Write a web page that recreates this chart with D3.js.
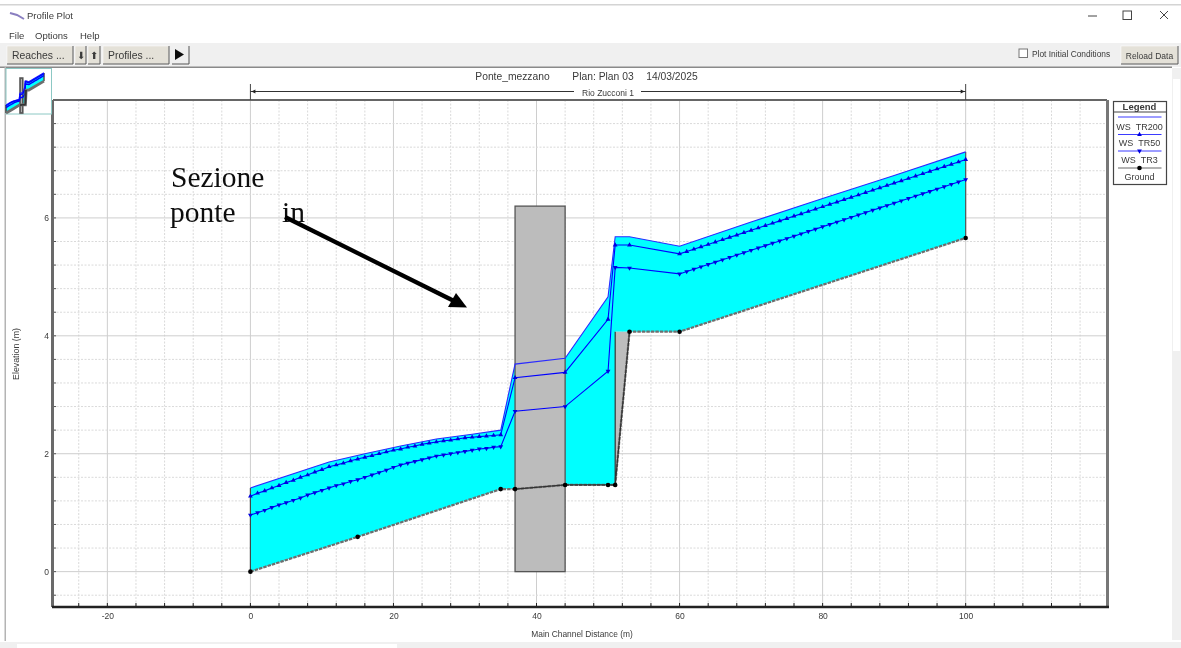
<!DOCTYPE html>
<html><head><meta charset="utf-8">
<style>
html,body{margin:0;padding:0;background:#fff;overflow:hidden}
svg{display:block}
text{font-family:"Liberation Sans",Arial,sans-serif;font-size:9.5px;fill:#3a3a3a;white-space:pre}
.soft{filter:url(#soft)}
</style>
<script src="https://cdn.jsdelivr.net/npm/d3@7/dist/d3.min.js"></script>
</head><body>
<svg id="c" width="1181" height="648"></svg>
<script>
const stationsWS=[0,1,2,3,4,5,6,7,8,9,10,11,12,13,14,15,16,17,18,19,20,21,22,23,24,25,26,27,28,29,30,31,32,33,34,35,37,44,50,51,53,60,61,62,63,64,65,66,67,68,69,70,71,72,73,74,75,76,77,78,79,80,81,82,83,84,85,86,87,88,89,90,91,92,93,94,95,96,97,98,99,100];
const wsTR50=[1.28,1.33,1.37,1.42,1.46,1.51,1.55,1.60,1.64,1.69,1.73,1.78,1.81,1.84,1.88,1.91,1.94,1.97,2.00,2.03,2.06,2.08,2.11,2.13,2.16,2.18,2.20,2.22,2.23,2.25,2.27,2.28,2.29,2.30,2.31,2.32,3.29,3.38,4.28,5.54,5.54,5.39,5.43,5.47,5.51,5.55,5.59,5.63,5.67,5.71,5.75,5.79,5.83,5.87,5.91,5.95,5.99,6.03,6.07,6.11,6.15,6.19,6.23,6.27,6.31,6.35,6.39,6.43,6.47,6.51,6.55,6.59,6.63,6.67,6.71,6.75,6.79,6.83,6.87,6.91,6.95,6.99];
const wsTR3=[0.96,1.00,1.04,1.09,1.13,1.17,1.21,1.25,1.30,1.34,1.38,1.42,1.46,1.49,1.53,1.56,1.60,1.64,1.68,1.72,1.77,1.81,1.84,1.87,1.90,1.93,1.96,1.98,2.00,2.02,2.04,2.06,2.08,2.09,2.11,2.12,2.72,2.80,3.40,5.16,5.15,5.05,5.09,5.13,5.17,5.21,5.25,5.29,5.33,5.37,5.41,5.45,5.49,5.53,5.57,5.61,5.65,5.69,5.73,5.77,5.81,5.85,5.89,5.93,5.97,6.01,6.05,6.09,6.13,6.17,6.21,6.25,6.29,6.33,6.37,6.41,6.45,6.49,6.53,6.57,6.61,6.65];
const stationsTop=[0,11,16,21,26,31,35,37,44,50,51,53,60,70,80,90,100];
const wsTR200=[1.42,1.86,2.00,2.13,2.25,2.33,2.40,3.52,3.62,4.66,5.68,5.68,5.52,5.93,6.33,6.72,7.12];
const groundX=[0,15,35,37,44,50,51,53,60,100];
const groundY=[0,0.59,1.40,1.40,1.47,1.47,1.47,4.07,4.07,5.66];
const bedX=[51,51];
const bedY=[4.07,1.47];
const bridgeX=[37,44];
const bridgeY=[0,6.2];
const gridXMajor=[-20,0,20,40,60,80,100];
const gridYMajor=[0,2,4,6];
const legendLabels=["WS  TR200","WS  TR50","WS  TR3","Ground"];
const titleParts=["Ponte_mezzano","Plan: Plan 03","14/03/2025"];

const svg=d3.select("#c");
const defs=svg.append("defs");
defs.append("filter").attr("id","soft").attr("filterUnits","userSpaceOnUse").attr("x",0).attr("y",0).attr("width",1181).attr("height",648)
 .append("feGaussianBlur").attr("stdDeviation",0.6);
const root=svg.append("g").attr("class","soft");
root.append("rect").attr("width",1181).attr("height",648).attr("fill","#fff");

const x=d3.scaleLinear().domain([-27.6,119.9]).range([53,1108]);
const y=d3.scaleLinear().domain([-0.6,8.0]).range([607,100]);

/* ---------- window chrome ---------- */
const chrome=root.append("g");
chrome.append("rect").attr("x",0).attr("y",4).attr("width",1181).attr("height",1.5).attr("fill","#d4d4d4");
chrome.append("rect").attr("x",0).attr("y",43).attr("width",1181).attr("height",24).attr("fill","#f0f0f0");
chrome.append("rect").attr("x",0).attr("y",66.5).attr("width",1172).attr("height",1.5).attr("fill","#8a8a8a");
chrome.append("rect").attr("x",4.5).attr("y",67).attr("width",1.5).attr("height",574).attr("fill","#b4b4b4");
chrome.append("text").attr("x",27).attr("y",19).text("Profile Plot");
chrome.append("path").attr("d","M10,13 L17,15 L24,19").attr("stroke","#8a7fc0").attr("stroke-width",2).attr("fill","none");
[["File",9],["Options",35],["Help",80]].forEach(d=>chrome.append("text").attr("x",d[1]).attr("y",39).text(d[0]));
function button(bx,w,label,by=46,h=18,size=10.4,lx=null){
  chrome.append("rect").attr("x",bx).attr("y",by).attr("width",w).attr("height",h).attr("fill","#e4e1d8").attr("stroke","#fff").attr("stroke-width",.5);
  chrome.append("path").attr("d",`M${bx},${by+h} H${bx+w} V${by}`).attr("stroke","#555").attr("fill","none");
  chrome.append("text").attr("x",lx===null?bx+w/2:lx).attr("y",by+h/2+3.5).attr("text-anchor",lx===null?"middle":"start").style("font-size",size+"px").text(label);
}
button(7,66,"Reaches ...",46,18,10.4,12);
button(75,11,"⬇",46,18,10);
button(88,12,"⬆",46,18,10);
button(103,66,"Profiles ...",46,18,10.4,108);
chrome.append("rect").attr("x",172).attr("y",46).attr("width",16).attr("height",18).attr("fill","#f0f0f0");
chrome.append("path").attr("d","M172,64 H189 V46").attr("stroke","#555").attr("fill","none");
chrome.append("path").attr("d","M175,49 L184,54.5 L175,60Z").attr("fill","#111");
chrome.append("rect").attr("x",1019).attr("y",49).attr("width",8.5).attr("height",8.5).attr("fill","#fff").attr("stroke","#777");
chrome.append("text").attr("x",1032).attr("y",57).style("font-size","8.4px").text("Plot Initial Conditions");
button(1121,57,"Reload Data",46,18,8.5);
chrome.append("path").attr("d","M1088,16 H1097").attr("stroke","#444");
chrome.append("rect").attr("x",1123).attr("y",11).attr("width",8.5).attr("height",8.5).attr("fill","none").attr("stroke","#444");
chrome.append("path").attr("d","M1160,11 L1168,19 M1168,11 L1160,19").attr("stroke","#444");
/* scrollbars */
chrome.append("rect").attr("x",1172).attr("y",68).attr("width",9).attr("height",572).attr("fill","#f0f0f0");
chrome.append("rect").attr("x",1173).attr("y",79).attr("width",7).attr("height",272).attr("fill","#fff");
chrome.append("rect").attr("x",0).attr("y",642).attr("width",1181).attr("height",6).attr("fill","#f0f0f0");
chrome.append("rect").attr("x",17).attr("y",644).attr("width",380).attr("height",4).attr("fill","#fff");

/* ---------- grid ---------- */
const gridG=root.append("g");
gridG.selectAll("line.gx").data(d3.range(-24,117,4)).join("line")
 .attr("x1",d=>x(d)).attr("x2",d=>x(d)).attr("y1",y.range()[1]).attr("y2",y.range()[0])
 .attr("stroke",d=>gridXMajor.includes(d)?"#cecece":"#dadada")
 .attr("stroke-dasharray",d=>gridXMajor.includes(d)?null:"2 1.5");
gridG.selectAll("line.gy").data(d3.range(-0.4,7.7,0.4)).join("line")
 .attr("y1",d=>y(d)).attr("y2",d=>y(d)).attr("x1",x.range()[0]).attr("x2",x.range()[1])
 .attr("stroke",d=>gridYMajor.some(m=>Math.abs(m-d)<1e-6)?"#cecece":"#dadada")
 .attr("stroke-dasharray",d=>gridYMajor.some(m=>Math.abs(m-d)<1e-6)?null:"2 1.5");

/* ---------- profile drawing, shared with the thumbnail ---------- */
const pairs=(a,b)=>a.map((v,i)=>[v,b[i]]);
function waterOutline(){
  const top=pairs(stationsTop,wsTR200);
  const bed=pairs(groundX.slice(0,7),groundY.slice(0,7)).reverse();
  const shelf=pairs(groundX.slice(7),groundY.slice(7)).reverse();
  return top.concat(shelf,pairs(bedX,bedY),bed.slice(1));
}
function drawProfile(g,X,Y,w){
  const line=d3.line().x(d=>X(d[0])).y(d=>Y(d[1]));
  g.append("path").attr("d",line(waterOutline())+"Z").attr("fill","#00ffff");
  g.append("path").attr("d",line([[bedX[0],bedY[0]],[groundX[7],groundY[7]],[bedX[1],bedY[1]]])+"Z").attr("fill","#bdbdbd");
  g.append("path").attr("d",line([[0,groundY[0]],[0,wsTR200[0]]])).attr("stroke","#444").attr("stroke-width",w*1.2);
  g.append("path").attr("d",line([[100,groundY[9]],[100,wsTR200[16]]])).attr("stroke","#555").attr("stroke-width",w*1.2);
  g.append("rect").attr("x",X(bridgeX[0])).attr("y",Y(bridgeY[1])).attr("width",X(bridgeX[1])-X(bridgeX[0])).attr("height",Y(bridgeY[0])-Y(bridgeY[1]))
    .attr("fill","#bcbcbc").attr("stroke","#555").attr("stroke-width",w*1.3);
  g.append("path").attr("d",line(pairs(stationsTop,wsTR200))).attr("fill","none").attr("stroke","#2a2aff").attr("stroke-width",w*1.1);
  g.append("path").attr("d",line(pairs(stationsWS,wsTR50))).attr("fill","none").attr("stroke","#0000ff").attr("stroke-width",w*1.1);
  g.append("path").attr("d",line(pairs(stationsWS,wsTR3))).attr("fill","none").attr("stroke","#0000ff").attr("stroke-width",w*1.1);
  g.append("path").attr("d",line(pairs(groundX,groundY))).attr("fill","none").attr("stroke","#6e6e6e").attr("stroke-width",w*2.2).attr("stroke-dasharray",w>1?null:"3.5 1");
  g.append("path").attr("d",line([[bedX[0],bedY[0]],[bedX[1],bedY[1]],[groundX[7],groundY[7]]])).attr("fill","none").attr("stroke","#333").attr("stroke-width",w*1.2);
  g.append("path").attr("d",line(pairs(groundX.slice(3,7),groundY.slice(3,7)))).attr("fill","none").attr("stroke","#333").attr("stroke-width",w*1.2);
}
const plot=root.append("g");
drawProfile(plot,x,y,1);
const tri=d3.symbol().type(d3.symbolTriangle).size(10);
plot.selectAll("path.m50").data(pairs(stationsWS,wsTR50)).join("path").attr("d",tri)
 .attr("transform",d=>`translate(${x(d[0])},${y(d[1])})`).attr("fill","#0000e0");
plot.selectAll("path.m3").data(pairs(stationsWS,wsTR3)).join("path").attr("d",tri)
 .attr("transform",d=>`translate(${x(d[0])},${y(d[1])}) rotate(180)`).attr("fill","#0000e0");
plot.selectAll("circle.g").data(pairs(groundX,groundY)).join("circle")
 .attr("cx",d=>x(d[0])).attr("cy",d=>y(d[1])).attr("r",2.3).attr("fill","#000");

/* ---------- frame and axes ---------- */
const ax=root.append("g");
const fmt=d=>String(d);
const xAxis=d3.axisBottom(x).tickValues(gridXMajor).tickFormat(fmt).tickSize(0).tickPadding(6);
const gx=ax.append("g").attr("transform",`translate(0,607)`).call(xAxis);
gx.select(".domain").remove();
gx.selectAll("text").style("font-size","8.5px").style("font-family",'"Liberation Sans"').attr("fill","#3a3a3a");
const yAxis=d3.axisLeft(y).tickValues(gridYMajor).tickFormat(fmt).tickSize(0).tickPadding(4);
const gy=ax.append("g").attr("transform",`translate(53,0)`).call(yAxis);
gy.select(".domain").remove();
gy.selectAll("text").style("font-size","8.5px").style("font-family",'"Liberation Sans"').attr("fill","#3a3a3a");
ax.selectAll("line.tx").data(d3.range(-24,117,4)).join("line").attr("x1",d=>x(d)).attr("x2",d=>x(d)).attr("y1",603).attr("y2",607).attr("stroke","#222");
ax.selectAll("line.ty").data(d3.range(-0.4,7.7,0.4)).join("line").attr("y1",d=>y(d)).attr("y2",d=>y(d)).attr("x1",53).attr("x2",56).attr("stroke","#555");
ax.append("path").attr("d","M53,100 H1107").attr("stroke","#666").attr("stroke-width",2).attr("fill","none");
ax.append("path").attr("d","M52.5,100 V607").attr("stroke","#6a6a6a").attr("stroke-width",3).attr("fill","none");
ax.append("path").attr("d","M1107.5,100 V607").attr("stroke","#777").attr("stroke-width",3).attr("fill","none");
ax.append("path").attr("d","M52,607 H1109").attr("stroke","#222").attr("stroke-width",2.5).attr("fill","none");
ax.append("text").attr("x",582).attr("y",637).attr("text-anchor","middle").style("font-size","8.4px").text("Main Channel Distance (m)");
ax.append("text").attr("transform","translate(18.5,354) rotate(-90)").attr("text-anchor","middle").style("font-size","8.8px").text("Elevation (m)");

/* title + reach span */
const head=root.append("g");
head.append("text").attr("x",512.5).attr("y",80).attr("text-anchor","middle").style("font-size","10.3px").text(titleParts[0]);
head.append("text").attr("x",603).attr("y",80).attr("text-anchor","middle").style("font-size","10.3px").text(titleParts[1]);
head.append("text").attr("x",672).attr("y",80).attr("text-anchor","middle").style("font-size","10.3px").text(titleParts[2]);
[0,100].forEach(d=>head.append("line").attr("x1",x(d)).attr("x2",x(d)).attr("y1",84).attr("y2",100).attr("stroke","#444"));
head.append("line").attr("x1",x(0)).attr("x2",x(100)).attr("y1",91.5).attr("y2",91.5).attr("stroke","#333");
head.append("path").attr("d",`M${x(0)+1},91.5 l4,-2 v4Z M${x(100)-1},91.5 l-4,-2 v4Z`).attr("fill","#222");
head.append("rect").attr("x",574).attr("y",87).attr("width",67).attr("height",9).attr("fill","#fff");
head.append("text").attr("x",608).attr("y",96).attr("text-anchor","middle").style("font-size","8.5px").text("Rio Zucconi 1");

/* legend */
const lg=root.append("g");
lg.append("rect").attr("x",1113.5).attr("y",101.5).attr("width",53).attr("height",83).attr("fill","#fff").attr("stroke","#444").attr("stroke-width",1.2);
lg.append("line").attr("x1",1113.5).attr("x2",1166.5).attr("y1",112).attr("y2",112).attr("stroke","#444");
lg.append("text").attr("x",1139.5).attr("y",109.5).attr("text-anchor","middle").style("font-weight","bold").style("font-size","9.5px").text("Legend");
const lineYs=[117,134.5,151,168],textYs=[129.5,145.5,162.5,180];
legendLabels.forEach((t,i)=>{
  lg.append("line").attr("x1",1118).attr("x2",1161.5).attr("y1",lineYs[i]).attr("y2",lineYs[i]).attr("stroke",i==3?"#666":"#3a3aff");
  if(i==1) lg.append("path").attr("d",tri).attr("transform",`translate(1139.5,${lineYs[i]})`).attr("fill","#0000e0");
  if(i==2) lg.append("path").attr("d",tri).attr("transform",`translate(1139.5,${lineYs[i]}) rotate(180)`).attr("fill","#0000e0");
  if(i==3) lg.append("circle").attr("cx",1139.5).attr("cy",lineYs[i]).attr("r",2.3).attr("fill","#000");
  lg.append("text").attr("x",1139.5).attr("y",textYs[i]).attr("text-anchor","middle").style("font-size","9px").text(t);
});

/* thumbnail */
const tg=root.append("g");
tg.append("rect").attr("x",6).attr("y",68.5).attr("width",45.5).attr("height",45.5).attr("fill","#fff").attr("stroke","#8cc8c4");
const tx=d3.scaleLinear().domain([0,100]).range([6,44]);
const ty=d3.scaleLinear().domain([0,7.1]).range([113,73]);
drawProfile(tg,tx,ty,1.3);

/* annotation */
const note=root.append("g");
const serif='"Liberation Serif",serif';
const noteSize="29.5px";
note.append("text").attr("x",171).attr("y",187).style("font-family",serif).style("font-size",noteSize).style("fill","#111").text("Sezione");
note.append("text").attr("x",170).attr("y",222).style("font-family",serif).style("font-size",noteSize).style("fill","#111").text("ponte");
note.append("text").attr("x",282).attr("y",222).style("font-family",serif).style("font-size",noteSize).style("fill","#111").text("in");
note.append("line").attr("x1",285).attr("y1",217).attr("x2",455).attr("y2",301.5).attr("stroke","#000").attr("stroke-width",4.2);
note.append("path").attr("d","M467,307.5 L448,307 L456,293Z").attr("fill","#000");
</script>
</body></html>
